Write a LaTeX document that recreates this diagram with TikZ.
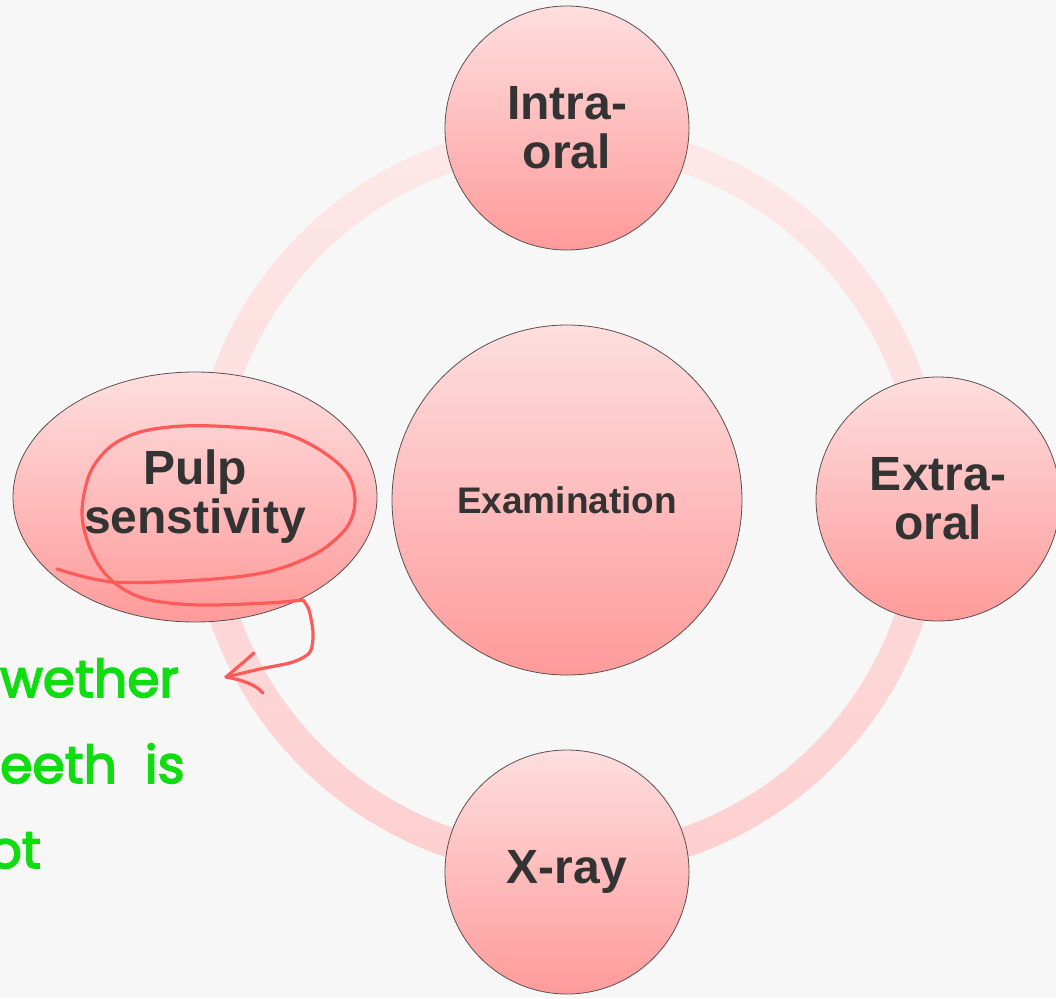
\documentclass[tikz,border=0pt]{standalone}
\usepackage{fontspec}
\setmainfont{Liberation Sans}
\newfontfamily\handfont{Poppins}[FakeBold=3]
\usetikzlibrary{shapes.geometric}
\definecolor{bg}{HTML}{F7F7F7}
\definecolor{ringtop}{HTML}{FDE8E8}
\definecolor{ringbot}{HTML}{FDCFCF}
\definecolor{nodetop}{HTML}{FDDEDE}
\definecolor{nodebot}{HTML}{FF9A9A}
\definecolor{bordergray}{HTML}{5A5050}
\definecolor{textgray}{HTML}{333333}
\definecolor{penred}{HTML}{FF5A5A}
\definecolor{pengreen}{HTML}{10DD10}
\begin{document}
\begin{tikzpicture}[x=1pt,y=-1pt,
  bubble/.style={circle, draw=bordergray, line width=0.8pt, top color=nodetop, bottom color=nodebot,
    minimum size=244pt, inner sep=0pt, align=center, text=textgray,
    font=\bfseries\fontsize{48}{49}\selectfont},
  centerbubble/.style={bubble, minimum size=350pt, font=\bfseries\fontsize{37}{40}\selectfont},
  ovalbubble/.style={bubble, ellipse, minimum width=364pt, minimum height=250pt},
  handtext/.style={inner sep=0pt, text=pengreen, font=\handfont\mdseries\fontsize{52}{60}\selectfont},
  pen/.style={draw=penred, line width=3.2pt, line cap=round, line join=round}]
\useasboundingbox (0,0) rectangle (1056,998);
\fill[bg] (0,0) rectangle (1056,998);
\clip (0,0) rectangle (1056,998);
% ring
\coordinate (c) at (567,500);
\shade[top color=ringtop, bottom color=ringbot, even odd rule] (c) circle (377) (c) circle (347);
% nodes
\node[centerbubble] (exam) at (567,500) {Examination};
\node[bubble] (intra) at (567,128) {Intra-\\oral};
\node[bubble] (extra) at (938,499) {Extra-\\oral};
\node[bubble] (xray) at (567,872) {X-ray};
\node[ovalbubble] (pulp) at (195,497) {Pulp\\senstivity};
% handwritten note
\node[handtext, anchor=base west] (l1) at (0,697) {wether};
\node[handtext, anchor=base west] (l2) at (0,783) {eeth\hspace{14pt} is};
\node[handtext, anchor=base east] (l3) at (41,868) {ot};
% red annotation
\draw[pen] plot[smooth, tension=0.55] coordinates {
 (57,569) (113,582) (200,580) (267,572) (317,553) (347,527) (355,500) (347,473)
 (320,450) (283,433) (233,427) (183,426) (140,432) (110,447) (90,473) (82,510)
 (87,540) (100,567) (120,587) (150,600) (200,605) (267,603) (303,600)};
\coordinate (tip) at (226,677);
\draw[pen] plot[smooth, tension=0.5] coordinates {
 (303,600) (309,610) (313,633) (310,652) (293,662) (260,669) (226,677)};
\draw[pen] (tip) .. controls (238,667) and (246,660) .. (254,653);
\draw[pen] (tip) .. controls (242,680) and (255,684) .. (263,693);
\end{tikzpicture}
\end{document}
